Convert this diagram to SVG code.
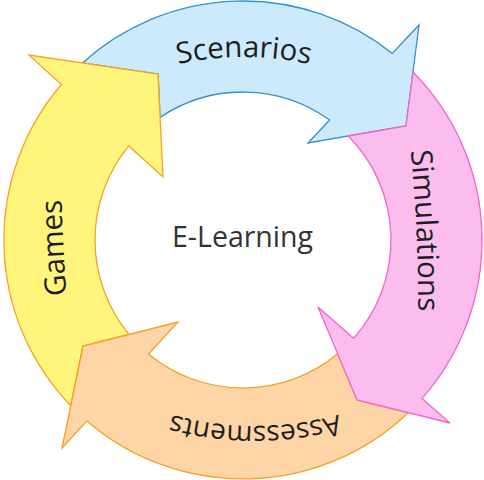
<svg xmlns="http://www.w3.org/2000/svg" width="484" height="480" viewBox="0 0 484 480">
<style>
.lbl{font-family:"Open Sans","Noto Sans","Liberation Sans",sans-serif;font-size:28px;fill:#1e1e1e}
.big{font-size:29.5px}
.arrow{stroke-width:1.3;stroke-linejoin:miter}
</style>
<defs>
<path id="pScen" d="M 91.5,97.9 A 305 305 0 0 1 396.5,97.9"/>
<path id="pSim" d="M 409.5,140 A 1500 1500 0 0 1 418,322"/>
<path id="pAss" d="M 432.8,369.9 A 310 310 0 0 1 77.2,369.9"/>
<path id="pGam" d="M 67.5,305 A 1500 1500 0 0 1 61.5,190"/>
</defs>
<rect width="484" height="480" fill="#ffffff"/>
<g id="scenarios">
<path class="arrow" fill="#cdeafc" stroke="#3490cf" d="M 82.5,62.9 A 239 239 0 0 1 392.3,53.4 L 419,25 L 406,126 L 308,143 L 329.6,120 A 148 148 0 0 0 160.1,117.4 L 158,74 Z"/>
<text class="lbl big"><textPath href="#pScen" startOffset="50%" text-anchor="middle">Scenarios</textPath></text>
</g>
<g id="games">
<path class="arrow" fill="#fff57c" stroke="#f5a323" d="M 70.7,405.7 A 239 239 0 0 1 61.4,84.5 L 29,55 L 158,74 L 163,177 L 128.8,145.9 A 148 148 0 0 0 129,334.4 L 83,346 Z"/>
<text class="lbl big"><textPath href="#pGam" startOffset="50%" text-anchor="middle">Games</textPath></text>
</g>
<g id="assessments">
<path class="arrow" fill="#fdd5a7" stroke="#f5a023" d="M 408.2,412.7 A 239 239 0 0 1 86.9,420.9 L 62,448 L 83,346 L 178,322 L 148.5,354 A 148 148 0 0 0 337.6,353.8 L 357,400 Z"/>
<text class="lbl"><textPath href="#pAss" startOffset="50%" text-anchor="middle">Assessments</textPath></text>
</g>
<g id="simulations">
<path class="arrow" fill="#fbbdee" stroke="#f466cc" d="M 413,72 A 239 239 0 0 1 422,398.4 L 450,423 L 357,400 L 318,307 L 353.6,338.3 A 148 148 0 0 0 348.3,136 L 406,126 Z"/>
<text class="lbl big"><textPath href="#pSim" startOffset="50%" text-anchor="middle">Simulations</textPath></text>
</g>
<g id="connectors"></g>
<g id="center">
<text class="lbl" x="242.5" y="247" text-anchor="middle" style="fill:#333333;font-size:28.5px">E-Learning</text>
</g>
</svg>
